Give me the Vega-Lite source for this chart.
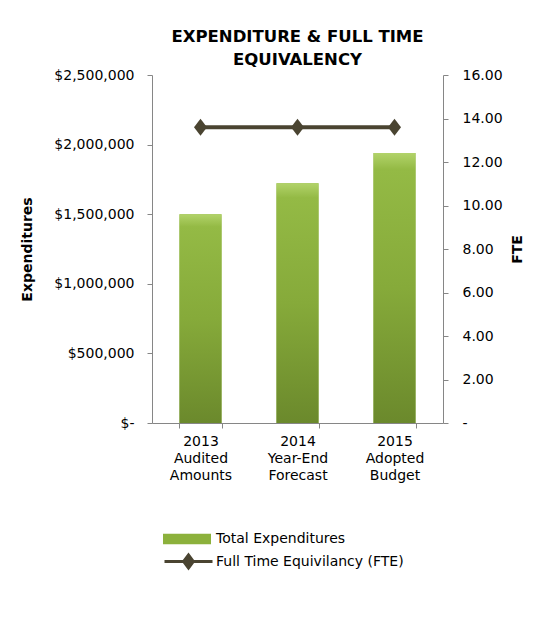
{
  "$schema": "https://vega.github.io/schema/vega-lite/v6.json",
  "autosize": {"type": "none"},
  "padding": {"left": 152, "top": 75, "right": 104, "bottom": 196},
  "width": 291,
  "height": 348,
  "background": "white",
  "title": {
    "text": ["EXPENDITURE & FULL TIME", "EQUIVALENCY"],
    "font": "DejaVu Sans",
    "fontSize": 16.5,
    "fontWeight": "bold",
    "color": "#000000",
    "lineHeight": 23,
    "offset": 0
  },
  "data": {
    "values": [
      {"label": "2013 Audited Amounts", "expenditures": 1500000, "fte": 13.6},
      {"label": "2014 Year-End Forecast", "expenditures": 1722000, "fte": 13.6},
      {"label": "2015 Adopted Budget", "expenditures": 1940000, "fte": 13.6}
    ]
  },
  "encoding": {
    "x": {
      "field": "label",
      "type": "nominal",
      "sort": null,
      "scale": {"paddingInner": 0.567, "paddingOuter": 0.2835},
      "axis": {
        "title": null,
        "labelAngle": 0,
        "labelExpr": "split(datum.label, ' ')",
        "labelLineHeight": 17,
        "labelPadding": 6,
        "tickBand": "extent",
        "tickSize": 5
      }
    }
  },
  "layer": [
    {
      "encoding": {
        "y": {
          "field": "expenditures",
          "type": "quantitative",
          "scale": {"domain": [0, 2500000], "nice": false},
          "axis": {
            "title": "Expenditures",
            "values": [0, 500000, 1000000, 1500000, 2000000, 2500000],
            "labelExpr": "datum.value == 0 ? '$-' : '$' + format(datum.value, ',.0f')",
            "tickSize": 5,
            "labelPadding": 13,
            "titlePadding": 19
          }
        }
      },
      "layer": [
        {
          "mark": {"type": "bar"},
          "encoding": {
            "fill": {
              "datum": "Total Expenditures",
              "type": "nominal",
              "scale": {"range": ["#8cb13c"]},
              "legend": {
                "orient": "none",
                "legendX": 11,
                "legendY": 440,
                "title": null,
                "padding": 0,
                "symbolType": "M-1,-0.22H1V0.22H-1Z",
                "symbolSize": 2304,
                "symbolStrokeWidth": 0,
                "symbolOpacity": 1,
                "labelOffset": 5,
                "labelLimit": 400
              }
            }
          }
        },
        {
          "mark": {
            "type": "bar",
            "fill": {
              "gradient": "linear",
              "x1": 0, "y1": 0, "x2": 0, "y2": 1,
              "stops": [
                {"offset": 0, "color": "#b2d36a"},
                {"offset": 0.06, "color": "#94ba45"},
                {"offset": 0.5, "color": "#86aa3a"},
                {"offset": 1, "color": "#6b892c"}
              ]
            }
          },
          "encoding": {}
        }
      ]
    },
    {
      "encoding": {
        "y": {
          "field": "fte",
          "type": "quantitative",
          "scale": {"domain": [0, 16], "nice": false},
          "axis": {
            "title": "FTE",
            "orient": "right",
            "values": [0, 2, 4, 6, 8, 10, 12, 14, 16],
            "labelExpr": "datum.value == 0 ? '-' : format(datum.value, '.2f')",
            "tickSize": 5,
            "labelPadding": 14,
            "titleAngle": -90,
            "titlePadding": 22
          }
        }
      },
      "layer": [
        {
          "mark": {"type": "line", "strokeWidth": 4},
          "encoding": {
            "stroke": {
              "datum": "Full Time Equivilancy (FTE)",
              "type": "nominal",
              "scale": {"range": ["#4a4431"]},
              "legend": {
                "orient": "none",
                "legendX": 11,
                "legendY": 461,
                "title": null,
                "padding": 0,
                "symbolType": "M-1,0H1M-0.2,0L0,-0.27L0.2,0L0,0.27Z",
                "symbolSize": 2304,
                "symbolStrokeWidth": 3,
                "symbolFillColor": "#4a4431",
                "labelOffset": 2,
                "labelLimit": 400
              }
            }
          }
        },
        {
          "mark": {
            "type": "point",
            "shape": "M0,-1.3L1,0L0,1.3L-1,0Z",
            "size": 169,
            "filled": true,
            "color": "#4a4431",
            "opacity": 1
          },
          "encoding": {}
        }
      ]
    }
  ],
  "resolve": {"scale": {"y": "independent", "fill": "independent", "stroke": "independent"}},
  "config": {
    "view": {"stroke": null},
    "font": "DejaVu Sans",
    "axis": {
      "labelFont": "DejaVu Sans",
      "labelFontSize": 14,
      "labelColor": "#000000",
      "titleFont": "DejaVu Sans",
      "titleFontSize": 14,
      "titleFontWeight": "bold",
      "titleColor": "#000000",
      "domainColor": "#868686",
      "tickColor": "#868686",
      "grid": false
    },
    "legend": {
      "labelFont": "DejaVu Sans",
      "labelFontSize": 14,
      "labelColor": "#000000"
    }
  }
}
